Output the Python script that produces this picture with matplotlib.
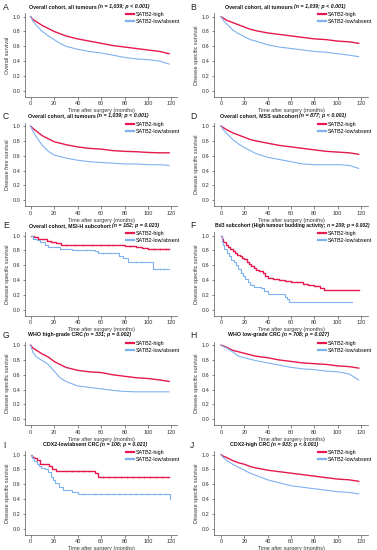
import matplotlib
matplotlib.use("Agg")
import matplotlib.pyplot as plt
import numpy as np

plt.rcParams['font.family'] = ['Liberation Sans', 'DejaVu Sans']

# ---------------- data ----------------
T = [0, 2, 5, 10, 15, 20, 25, 30, 40, 50, 60, 70, 80, 90, 100, 110, 118]

A_high = [1.0, 0.96, 0.93, 0.88, 0.84, 0.80, 0.77, 0.74, 0.70, 0.67, 0.64, 0.61, 0.59, 0.57, 0.55, 0.53, 0.50]
A_low = [1.0, 0.94, 0.88, 0.80, 0.74, 0.69, 0.64, 0.60, 0.56, 0.53, 0.51, 0.48, 0.45, 0.43, 0.42, 0.40, 0.36]
B_high = [1.0, 0.98, 0.95, 0.92, 0.89, 0.86, 0.83, 0.81, 0.78, 0.76, 0.74, 0.72, 0.70, 0.69, 0.67, 0.66, 0.64]
B_low = [1.0, 0.95, 0.90, 0.82, 0.77, 0.73, 0.69, 0.67, 0.62, 0.59, 0.57, 0.55, 0.53, 0.52, 0.50, 0.48, 0.46]
C_high = [1.0, 0.97, 0.93, 0.87, 0.83, 0.79, 0.77, 0.75, 0.72, 0.70, 0.69, 0.67, 0.66, 0.655, 0.645, 0.64, 0.64]
C_low = [1.0, 0.93, 0.85, 0.74, 0.66, 0.61, 0.59, 0.57, 0.54, 0.52, 0.51, 0.50, 0.49, 0.49, 0.48, 0.48, 0.47]
D_high = [1.0, 0.98, 0.95, 0.91, 0.88, 0.85, 0.82, 0.80, 0.77, 0.74, 0.72, 0.70, 0.68, 0.66, 0.65, 0.64, 0.62]
D_low = [1.0, 0.95, 0.90, 0.82, 0.76, 0.71, 0.67, 0.63, 0.58, 0.55, 0.52, 0.49, 0.48, 0.48, 0.48, 0.47, 0.43]
G_high = [1.0, 0.96, 0.93, 0.88, 0.84, 0.78, 0.74, 0.70, 0.66, 0.64, 0.63, 0.60, 0.58, 0.56, 0.55, 0.53, 0.51]
G_low = [1.0, 0.90, 0.84, 0.79, 0.74, 0.65, 0.56, 0.51, 0.45, 0.43, 0.41, 0.39, 0.375, 0.37, 0.37, 0.37, 0.37]
H_high = [1.0, 0.99, 0.97, 0.93, 0.91, 0.89, 0.87, 0.85, 0.83, 0.80, 0.78, 0.76, 0.75, 0.74, 0.72, 0.71, 0.69]
H_low = [1.0, 0.98, 0.96, 0.91, 0.85, 0.83, 0.81, 0.79, 0.76, 0.73, 0.70, 0.68, 0.67, 0.65, 0.64, 0.61, 0.53]
J_high = [1.0, 0.98, 0.96, 0.92, 0.89, 0.87, 0.84, 0.82, 0.79, 0.77, 0.75, 0.73, 0.71, 0.69, 0.67, 0.66, 0.64]
J_low = [1.0, 0.96, 0.92, 0.87, 0.83, 0.79, 0.75, 0.72, 0.66, 0.62, 0.58, 0.56, 0.54, 0.52, 0.50, 0.49, 0.47]

E_high_t = [0, 3, 6, 10, 14, 17, 22, 26, 75, 80, 90, 95, 100, 118]
E_high = [1.0, 0.98, 0.96, 0.95, 0.93, 0.91, 0.90, 0.88, 0.87, 0.86, 0.85, 0.83, 0.82, 0.82]
E_low_t = [0, 2, 5, 8, 12, 15, 25, 35, 55, 57, 75, 79, 83, 102, 104, 118]
E_low = [1.0, 0.96, 0.94, 0.92, 0.88, 0.85, 0.82, 0.80, 0.79, 0.76, 0.73, 0.70, 0.65, 0.65, 0.55, 0.55]
E_high_cens = [30, 38, 45, 52, 60, 66, 70, 85, 105, 110, 115]
E_low_cens = [40, 48, 62, 68, 90, 95, 110, 114]

F_high_t = [0, 1, 2, 4, 6, 8, 10, 12, 14, 16, 18, 20, 22, 24, 26, 28, 30, 33, 36, 38, 40, 45, 50, 55, 60, 65, 70, 75, 80, 85, 88, 95, 118]
F_high = [1.0, 0.95, 0.92, 0.88, 0.85, 0.82, 0.79, 0.77, 0.74, 0.72, 0.70, 0.69, 0.65, 0.62, 0.59, 0.56, 0.54, 0.52, 0.50, 0.46, 0.43, 0.41, 0.40, 0.39, 0.38, 0.37, 0.35, 0.34, 0.32, 0.30, 0.27, 0.26, 0.26]
F_low_t = [0, 1, 2, 3, 5, 7, 9, 11, 13, 15, 17, 19, 21, 23, 25, 28, 31, 34, 37, 40, 45, 50, 55, 57, 58, 112]
F_low = [1.0, 0.92, 0.87, 0.82, 0.77, 0.72, 0.67, 0.64, 0.60, 0.55, 0.50, 0.46, 0.42, 0.38, 0.34, 0.31, 0.31, 0.29, 0.25, 0.21, 0.21, 0.21, 0.17, 0.14, 0.10, 0.10]
F_high_cens = []
F_low_cens = []

I_high_t = [0, 1, 3, 5, 8, 12, 16, 18, 22, 25, 55, 57, 118]
I_high = [1.0, 0.97, 0.95, 0.93, 0.88, 0.87, 0.85, 0.80, 0.785, 0.78, 0.75, 0.70, 0.70]
I_low_t = [0, 1, 3, 5, 7, 9, 12, 15, 17, 19, 21, 24, 28, 35, 40, 118, 119]
I_low = [1.0, 0.95, 0.92, 0.88, 0.84, 0.82, 0.80, 0.76, 0.70, 0.66, 0.62, 0.57, 0.52, 0.49, 0.47, 0.47, 0.40]
I_high_cens = [30, 35, 40, 45, 50, 62, 67, 72, 77, 82, 87, 92, 97, 102, 107, 112]
I_low_cens = [45, 55, 60, 65, 70, 75, 80, 85, 90, 95, 100, 105, 110, 115]

letters = ['A', 'B', 'C', 'D', 'E', 'F', 'G', 'H', 'I', 'J']
title_bold = ['Overall cohort, all tumours ', 'Overall cohort, all tumours ', 'Overall cohort, all tumours ',
              'Overall cohort, MSS subcohort ', 'Overall cohort, MSI-H subcohort ',
              'Bd3 subcohort (High tumour budding activity; ', 'WHO high-grade CRC ', 'WHO low-grade CRC ',
              'CDX2-low/absent CRC ', 'CDX2-high CRC ']
title_ital = ['(n = 1,039; p < 0.001)', '(n = 1,039; p < 0.001)', '(n = 1,039; p < 0.001)',
              '(n = 877; p < 0.001)', '(n = 162; p = 0.023)', 'n = 209; p = 0.002)',
              '(n = 331; p = 0.002)', '(n = 708; p = 0.027)', '(n = 106; p = 0.021)', '(n = 933; p < 0.001)']
ylabels = ['Overall survival', 'Disease specific survival', 'Disease free survival'] + ['Disease specific survival'] * 7
series_labels = ['SATB2-high', 'SATB2-low/absent']
xticks = [0, 20, 40, 60, 80, 100, 120]
yticks = [0.0, 0.2, 0.4, 0.6, 0.8, 1.0]

curves = [
    (T, A_high, T, A_low, False, [], []), (T, B_high, T, B_low, False, [], []),
    (T, C_high, T, C_low, False, [], []), (T, D_high, T, D_low, False, [], []),
    (E_high_t, E_high, E_low_t, E_low, True, E_high_cens, E_low_cens),
    (F_high_t, F_high, F_low_t, F_low, True, F_high_cens, F_low_cens),
    (T, G_high, T, G_low, False, [], []), (T, H_high, T, H_low, False, [], []),
    (I_high_t, I_high, I_low_t, I_low, True, I_high_cens, I_low_cens),
    (T, J_high, T, J_low, False, [], []),
]

RED = '#e5194d'
BLUE = '#7eb1f0'
TXT = '#333333'

W, H = 377, 550
fig = plt.figure(figsize=(W / 100, H / 100), dpi=100)
fig.patch.set_facecolor('white')

col_x = [(25, 177), (214, 368)]
col_xlim = [(-4.8, 124.7), (-6.0, 126.0)]
title_x = [29, 224.7, 28, 219.7, 29, 215, 28, 228, 42.7, 229.7]
title_fs = [3.8, 3.8, 3.8, 3.8, 3.8, 3.6, 3.8, 3.8, 3.8, 3.8]
legend_x = [126, 318]
row_pitch = 109.5


def step_at(ts, ys, t):
    idx = np.searchsorted(np.asarray(ts), t, side='right') - 1
    return np.asarray(ys)[idx]


for i in range(10):
    r, c = divmod(i, 2)
    x0, x1 = col_x[c]
    top = 13.3 + row_pitch * r
    bot = 96.7 + row_pitch * r
    ax = fig.add_axes([x0 / W, 1 - bot / H, (x1 - x0) / W, (bot - top) / H])
    th, yh, tl, yl, step, ch, cl = curves[i]
    ds = 'steps-post' if step else 'default'
    ax.plot(th, yh, color=RED, lw=1.0, drawstyle=ds, label=series_labels[0])
    ax.plot(tl, yl, color=BLUE, lw=0.8, drawstyle=ds, label=series_labels[1])
    if ch:
        ax.plot(ch, step_at(th, yh, ch), ls='none', marker='|', ms=2.0, mew=0.4, color=RED)
    if cl:
        ax.plot(cl, step_at(tl, yl, cl), ls='none', marker='|', ms=2.0, mew=0.4, color=BLUE)
    ax.set_xlim(*col_xlim[c])
    ax.set_ylim(-0.08, 1.045)
    ax.set_xticks(xticks)
    ax.set_yticks(yticks)
    ax.set_yticklabels([f'{v:.1f}' for v in yticks])
    ax.tick_params(labelsize=4.0, length=1.8, width=0.5, pad=1.5, colors='#555555', labelcolor=TXT)
    for s in ['top', 'right']:
        ax.spines[s].set_visible(False)
    for s in ['left', 'bottom']:
        ax.spines[s].set_linewidth(0.5)
        ax.spines[s].set_color('#555555')
    ax.set_xlabel('Time after surgery (months)', fontsize=3.9, color=TXT, labelpad=1.5)
    ax.set_ylabel(ylabels[i], fontsize=3.9, color=TXT, labelpad=2)
    leg = ax.legend(loc='upper left', bbox_to_anchor=(legend_x[c] / W, 1 - (12.3 + row_pitch * r) / H),
                    bbox_transform=fig.transFigure, frameon=False, fontsize=3.9, handlelength=1.4,
                    handletextpad=0.4, labelspacing=0.35, borderpad=0, borderaxespad=0)
    for ln in leg.get_lines():
        ln.set_linewidth(1.6)
    # title
    ty = 1 - (6.3 + row_pitch * r) / H
    t1 = fig.text(title_x[i] / W, ty, title_bold[i], fontsize=title_fs[i], fontweight='bold',
                  color='#111111', va='center', ha='left')
    ax.annotate(title_ital[i], xy=(1, 0.5), xycoords=t1, va='center', ha='left', fontsize=title_fs[i],
                fontweight='bold', fontstyle='italic', color='#111111')
    # panel letter
    lx = 3 if c == 0 else 190
    fig.text(lx / W, 1 - (7 + row_pitch * r) / H, letters[i], fontsize=6.2, color='#222222',
             va='center', ha='left')

fig.savefig('out.png', dpi=100, facecolor='white')
